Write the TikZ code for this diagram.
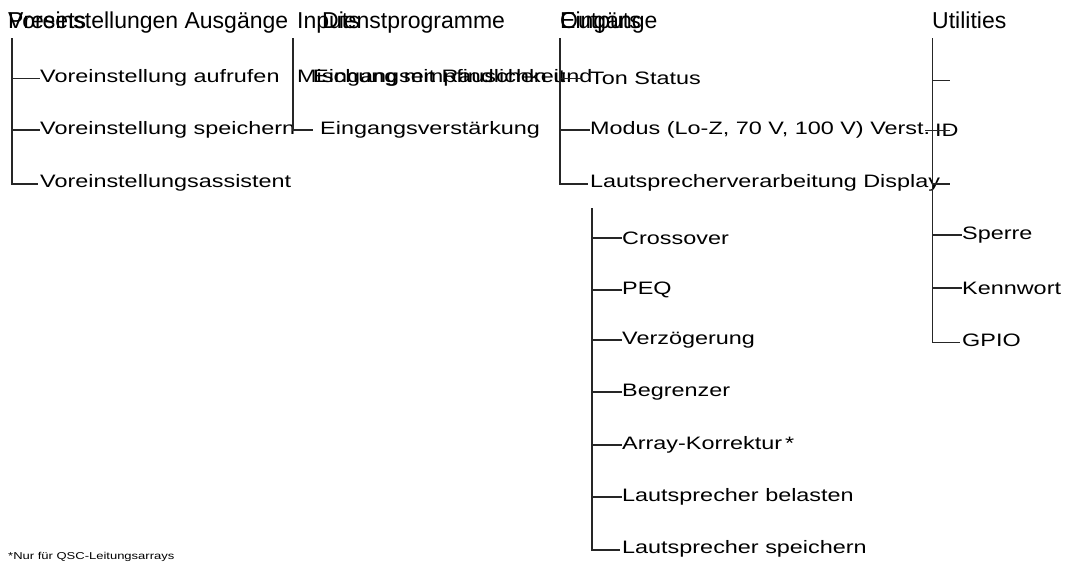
\documentclass[tikz,border=0pt]{standalone}
\usepackage{fontspec}
\setmainfont{Liberation Sans}
\newfontfamily\wide[FakeStretch=1.3]{Liberation Sans}
\begin{document}
\begin{tikzpicture}[x=1pt,y=-1pt,
 head/.style={anchor=base west,inner sep=0,font=\fontsize{23}{26}\selectfont},
 item/.style={anchor=west,inner sep=0,font=\wide\fontsize{18}{21}\selectfont},
 tree/.style={line width=1.3pt,black!85}]
\useasboundingbox (0,0) rectangle (1079,573);
% headings
\node[head] (h1) at (8,28) {Presets};
\node[head] (h1b) at (8,28) {Voreinstellungen Ausgänge};
\node[head] (h2) at (297,28) {Inputs};
\node[head] (h2b) at (322,28) {Dienstprogramme};
\node[head] (h3) at (560,28) {Outputs};
\node[head] (h3b) at (560,28) {Eingänge};
\node[head] (h4) at (932,28) {Utilities};
% column 1
\coordinate (c1t) at (12,38); \coordinate (c1b) at (12,184);
\draw[tree] (c1t) -- (c1b) -- (38,184);
\node[item] (p1) at (40,78) {Voreinstellung aufrufen};
\node[item] (p2) at (40,130) {Voreinstellung speichern};
\node[item] (p3) at (40,183) {Voreinstellungsassistent};
\draw[tree,line width=0.8pt] (12,78) -- (p1.west);
\draw[tree] (12,130) -- (p2.west);
% column 2
\coordinate (c2t) at (293,38); \coordinate (c2b) at (293,130);
\draw[tree] (c2t) -- (c2b) -- (313,130);
\node[item] (i1) at (297,78) {Mischung mit Rauschen und};
\node[item] (i1b) at (313,78) {Eingangsempfindlichkeit};
\node[item] (i2) at (320,130) {Eingangsverstärkung};
% column 3
\coordinate (c3t) at (560,38); \coordinate (c3b) at (560,184);
\draw[tree] (c3t) -- (c3b) -- (588,184);
\node[item] (o1) at (590,78) {Ton Status};
\node[item] (o2) at (590,130) {Modus (Lo-Z, 70 V, 100 V) Verst.};
\node[item] (o3) at (590,183) {Lautsprecherverarbeitung Display};
\draw[tree,line width=0.8pt] (560,78) -- (582,78);
\draw[tree] (560,130) -- (o2.west);
% utilities
\coordinate (c4t) at (932,38); \coordinate (c4b) at (932,342);
\draw[tree,line width=0.9pt] (c4t) -- (c4b) -- (960,342);
\coordinate (u0) at (950,80);
\draw[tree,line width=0.8pt] (932,80) -- (u0);
\node[item] (u1) at (935,130) {ID};
\draw[tree,line width=0.8pt] (925,130) -- (950,130);
\draw[tree] (932,184) -- (950,184);
\node[item] (u3) at (962,235) {Sperre};
\node[item] (u4) at (962,288) {Kennwort};
\node[item] (u5) at (962,340) {GPIO};
\draw[tree] (932,235) -- (u3.west);
\draw[tree] (932,288) -- (u4.west);
% sub column
\coordinate (c5t) at (592,208); \coordinate (c5b) at (592,550);
\draw[tree] (c5t) -- (c5b) -- (620,550);
\foreach \n/\y/\t in {s1/238/Crossover,s2/290/PEQ,s3/340/Verzögerung,s4/392/Begrenzer,s5/445/{Array-Korrektur\,*},s6/497/Lautsprecher belasten}{
 \node[item] (\n) at (622,\y) {\t};
 \draw[tree] (592,\y) -- (\n.west);}
\node[item] (s7) at (622,549) {Lautsprecher speichern};
\node[anchor=west,inner sep=0,font=\wide\fontsize{10}{12}\selectfont] (fn) at (8,557) {*Nur für QSC-Leitungsarrays};
\end{tikzpicture}
\end{document}
